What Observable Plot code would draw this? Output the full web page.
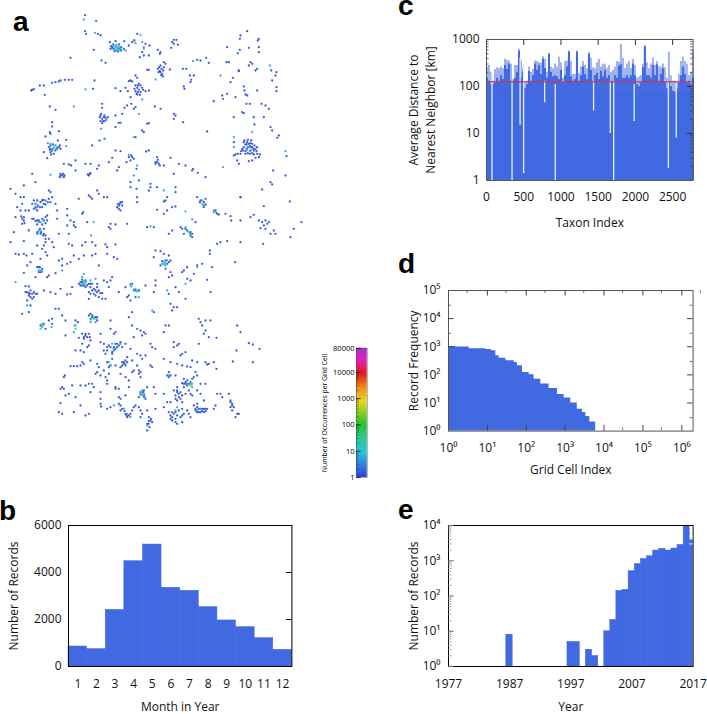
<!DOCTYPE html>
<html><head><meta charset="utf-8">
<script src="https://cdn.jsdelivr.net/npm/d3@7"></script>
<script src="https://cdn.jsdelivr.net/npm/@observablehq/plot@0.6"></script>
<style>
html,body{margin:0;padding:0;background:#fff}
#page{position:relative;width:707px;height:714px;overflow:hidden}
#page>svg{position:absolute}
.tag{position:absolute;font:bold 28px/12px "Liberation Sans",sans-serif;color:#000}
</style></head><body><div id="page"></div>
<script>
// ---------- panel a: occupied grid cells, [east, south] in map grid units, by occurrence class
const cellsOne = [254,44,287,61,254,92,257,100,300,104,292,100,328,125,345,122,335,140,340,145,355,145,362,140,330,145,385,135,395,125,402,120,410,100,435,130,447,135,418,170,430,165,445,165,425,155,472,148,480,155,478,160,515,125,520,118,528,118,532,133,520,130,512,142,280,148,303,180,315,187,210,172,490,185,480,195,472,205,478,212,485,220,487,228,480,215,495,190,508,207,547,205,557,205,590,178,600,180,617,172,625,187,568,225,580,225,572,238,570,245,550,258,552,265,440,208,445,208,405,225,410,232,390,240,385,242,395,243,415,250,410,262,405,272,415,268,425,262,420,275,435,272,445,270,410,282,375,262,382,272,345,263,360,272,390,290,380,315,372,322,392,310,405,320,400,325,463,318,480,325,95,268,100,266,92,270,118,255,130,255,133,283,155,247,165,245,175,243,180,240,193,238,205,238,215,238,278,265,282,240,148,318,165,328,305,310,305,322,300,345,310,350,305,355,315,352,322,350,308,362,300,362,345,380,355,367,360,367,365,340,345,345,155,365,155,378,148,395,150,400,175,392,135,408,150,435,170,445,155,450,150,455,160,460,178,435,197,418,172,420,130,455,140,473,405,410,425,390,430,395,440,370,445,368,520,340,525,345,520,355,548,365,620,393,640,302,665,285,668,295,680,280,715,210,697,232,690,245,730,258,732,270,735,282,740,285,770,270,705,290,725,335,738,310,748,310,730,338,783,310,795,315,805,325,700,350,760,350,790,350,762,372,810,380,815,390,835,405,830,412,720,105,718,115,740,92,775,115,772,120,680,140,718,148,712,158,745,142,775,140,775,155,678,185,685,185,750,185,755,190,745,195,770,205,765,210,715,212,812,210,828,215,825,225,815,240,828,260,828,272,700,425,730,425,735,432,740,425,745,430,750,428,755,430,762,435,765,445,770,440,730,440,738,445,750,450,755,440,760,450,735,452,728,450,742,458,748,460,755,458,720,460,712,460,705,462,700,465,770,460,778,462,775,470,765,472,755,480,745,482,710,480,715,490,858,467,818,510,855,525,810,545,815,552,785,567,720,590,868,603,790,617,760,643,750,650,690,647,692,660,720,660,775,660,785,665,795,660,805,665,790,675,780,683,800,670,795,685,810,700,820,690,825,700,880,685,903,665,870,710,345,450,360,452,395,470,390,480,378,485,408,505,335,472,325,485,355,500,350,510,295,495,290,505,270,490,255,490,268,520,265,525,225,480,190,490,205,492,212,495,225,510,180,520,185,525,190,530,178,530,275,435,312,415,297,420,445,450,437,453,470,485,472,478,465,490,478,495,490,495,510,472,535,490,555,495,578,505,575,510,592,517,615,530,390,545,415,540,390,560,408,565,450,550,450,560,445,570,470,560,520,520,525,560,525,575,495,600,490,603,500,590,470,628,490,640,500,630,515,620,525,618,600,600,610,620,590,590,615,595,648,637,655,642,675,640,720,590,585,665,540,680,555,685,570,705,575,710,550,700,515,690,505,700,440,680,460,680,380,670,345,672,330,670,325,680,330,685,360,605,355,615,350,620,360,630,365,605,410,590,410,605,290,570,295,580,265,585,270,590,275,595,320,590,310,590,235,595,245,640,248,635,260,665,225,680,30,565,45,580,70,555,60,590,70,590,65,610,50,620,60,630,75,630,100,600,110,600,105,620,110,630,125,600,130,610,135,600,145,595,150,605,155,590,165,610,170,630,145,570,150,575,105,545,95,520,85,630,45,650,65,655,70,660,65,670,100,655,110,660,130,660,135,650,140,645,170,655,200,625,200,645,210,660,220,665,200,675,220,675,120,700,130,685,85,690,40,695,135,715,145,715,175,700,205,700];
const cellsOneSouth = [30,725,70,722,110,735,130,735,125,745,135,755,155,725,160,740,135,725,205,730,215,735,255,725,245,735,275,725,285,735,315,732,320,740,345,732,45,760,55,762,70,760,78,765,95,760,140,765,120,775,185,775,175,780,185,795,210,785,220,765,235,775,250,765,275,765,285,760,320,760,340,770,350,775,80,795,90,785,115,815,70,817,105,830,145,825,140,830,165,818,200,790,295,795,245,838,235,850,240,855,255,860,265,850,270,860,275,870,290,850,310,840,320,845,330,840,335,830,325,860,290,875,285,885,295,890,305,895,315,895,270,880,265,895,75,857,85,858,75,875,85,877,100,875,105,880,90,890,95,895,110,880,90,915,65,940,85,935,80,900,130,870,150,875,165,880,180,865,200,882,210,880,215,860,405,870,405,890,435,855,460,875,465,855,380,890,385,885,390,900,355,875,375,860,465,840,460,770,465,750,480,752,490,760,505,765,510,780,495,805,510,815,515,825,505,830,505,880,510,910,520,920,515,930,530,920,560,835,570,840,580,820,590,795,605,790,620,838,635,800,630,875,550,810,560,800,545,815,525,860,535,875,555,895,460,935,704,785,628,750,628,760,650,730,660,725,720,725,788,730,680,722,120,975,130,970,135,985,270,940,290,950,232,965,145,960,155,970,155,955,185,945,175,925,165,925,195,960,225,960,195,1005,235,1012,255,1005,250,1015,265,1000,270,1020,245,1030,260,1040,265,1035,240,1050,225,1050,250,1055,300,1025,310,1030,320,1040,340,1050,350,1040,375,1030,345,1030,315,1060,335,1060,335,1075,325,1100,370,1090,375,1080,380,1085,365,1095,345,1095,390,1045,410,1060,420,1065,425,1075,395,1080,380,1070,340,1000,345,995,330,985,330,960,300,1000,250,1090,210,1097,220,1097,230,1097,240,1095,245,1085,290,1090,295,1100,290,1115,325,1120,315,1130,300,1125,190,1130,193,1125,270,1080,400,1010,410,985,420,990,430,995,425,1005,435,1000,395,975,385,950,395,935,455,1040,465,1045,450,1030,490,995,495,975,505,975,520,1040,530,1035,520,1025,535,1030,600,965,595,955,605,975,615,960,630,960,615,990,610,1000,625,1010,595,1030,648,1012,710,975,720,995,745,1028,757,1032,777,1045,708,1050,697,1083,757,1085,545,1060,540,1065,555,1055,490,1075,510,1085,455,1100,450,1095,435,1065,410,1095,400,1110,415,1120,420,1115,420,1130,575,1080,590,1085,615,1085,625,1090,620,1092,640,1085,648,1105,570,1100,560,1098,545,1095,530,1090,505,1130,500,1125,525,1125,585,1115,590,1125,550,1150,555,1145,560,1155,575,1135,580,1130,590,1170,600,1150,615,1150,565,1170,550,1135,530,1170,535,1180,525,1185,540,1195,530,1200,545,1205,555,1180,570,1180,575,1185,500,1205,510,1205,600,1180,610,1200,590,1210,595,1225,605,1225,615,1225,585,1230,590,1235,600,1235,610,1235,620,1225,640,1225,645,1215,660,1180,650,1180,665,1190,685,1180,690,1200,695,1210,690,1220,700,1220,695,1230,710,1240,705,1250,715,1240,550,1240,545,1225,525,1235,515,1235,510,1245,510,1255,515,1260,525,1265,530,1270,545,1265,560,1230,565,1240,570,1250,580,1215,490,1220,445,1250,450,1260,455,1265,445,1270,440,1290,430,1185,420,1175,435,1195,415,1190,405,1215,415,1220,420,1230,425,1240,400,1220,420,1250,440,1230,465,1225,460,1160,440,1160,430,1170,465,1180,490,1180,360,1195,355,1210,360,1230,375,1240,385,1245,380,1250,390,1240,395,1230,355,1190,330,1220,320,1225,300,1210,302,1218,345,1160,345,1165,320,1150,355,1165,375,1185,385,1160,300,1175,185,1160,190,1165,195,1185,205,1180,215,1155,225,1190,240,1215,255,1245,265,1240,240,1155,255,1155,265,1150,275,1150,280,1160,320,1140,180,1208,175,1235,185,1240,220,1235,180,1165,285,1120,310,1110,375,1130,385,1140,415,1110,360,1120,395,1115,300,1195,270,1175];
const cellsDense = [338,132,348,135,356,132,342,152,352,153,362,150,370,145,332,137,483,205,476,200,488,210,474,215,490,200,482,224,405,255,412,255,420,255,402,265,412,275,408,280,418,283,428,268,298,350,302,340,312,345,318,358,312,362,305,368,732,420,742,418,752,420,738,432,748,436,758,445,725,445,742,440,752,440,735,460,760,462,768,452,722,452,145,440,150,445,165,450,175,440,180,445,158,432,148,448,152,462,105,610,112,615,120,605,118,620,128,598,100,625,95,610,125,620,135,612,142,605,95,655,105,662,115,660,125,655,135,668,125,672,140,660,110,672,62,648,70,650,72,668,112,695,118,685,122,695,110,700,128,705,135,705,130,700,465,485,475,490,470,470,385,470,392,465,400,475,262,522,270,518,180,525,188,520,192,525,358,610,365,615,352,610,355,625,598,605,610,605,615,612,645,630,650,640,545,685,560,690,570,695,575,700,118,800,125,805,115,800,110,800,122,815,80,875,90,870,95,880,85,885,100,890,88,880,240,845,245,845,255,840,260,855,250,855,245,855,275,850,280,865,285,870,295,870,300,878,290,860,270,850,265,875,305,878,280,880,485,782,495,780,500,790,505,785,480,795,400,868,415,868,395,850,265,945,275,945,285,950,270,955,290,960,275,950,255,1000,260,1010,268,1010,250,1010,245,1000,330,1040,340,1040,345,1045,335,1055,325,1035,355,1035,360,1025,365,1040,350,1030,310,1050,320,1050,370,1085,375,1095,365,1085,360,1100,320,1085,330,1095,505,1115,510,1125,545,1148,555,1150,565,1150,560,1140,550,1160,570,1145,530,1175,540,1175,535,1190,525,1195,545,1185,530,1160,520,1170,590,1220,600,1225,610,1225,595,1235,605,1232,585,1225,615,1232,520,1240,530,1245,515,1250,525,1255,540,1250,505,1235,535,1230,545,1245,365,1225,372,1232,378,1245,360,1215,690,1205,695,1215,420,1182,428,1175,432,1190,440,1270,447,1280,445,1262,452,1255];
const cellsFew = [250,57,283,97,372,122,375,150,420,103,425,125,577,182,465,237,425,297,415,340,255,267,220,318,302,385,142,428,197,437,400,410,660,225,755,395,808,195,700,410,700,440,855,452,668,500,385,463,410,495,400,525,150,523,490,570,640,630,575,657,450,678,280,665,272,705,120,665,115,690,120,810,185,810,250,820,285,835,45,845,80,915,415,890,500,870,555,850,590,800,455,930,153,980,340,138,355,140,348,150,335,145,360,145,370,122,400,120,405,128,430,140,150,430,165,435,155,445,170,440,745,440,740,448,748,452,605,600,612,615,640,635,650,640,560,690,570,700,555,680,105,625,110,620,100,655,115,665,130,660,110,695,120,690,85,690,110,600,115,810,125,812,485,790,500,780,495,795,245,830,255,845,245,855,270,840,390,850,405,865,415,872,400,870,275,945,285,965,270,965,225,975,220,995,125,970,340,1045,335,1030,360,1030,350,1040,325,1085,330,1095,375,1090,505,1125,560,1150,575,1160,425,1170,430,1190,370,1225,380,1240,390,1250,340,1215,600,1225,590,1230,530,1220,525,1230,540,1250,440,1275];
const cellsSome = [350,142,345,148,430,145,160,440,555,633,605,610,565,695,490,785,250,848,390,855,412,872,125,980,225,985,222,975,345,140,352,145,355,150,347,135,158,445,165,445,608,615,568,700,495,788,490,792,245,850,255,852,250,842,280,950,272,958,287,955,392,858,408,872,120,985,128,975,340,1048,572,1150,427,1185,432,1180];
const cellsMany = [350,143,280,955,425,1180,570,1155,575,1150];
const classOne = 1.2, classFew = 5, classSome = 18, classMany = 38;

// colour key of panel a
const keyStops = [1, 3, 8, 30, 100, 700, 2500, 8000, 30000, 80000];
const keyColors = ["#2a3fd0","#2a80e6","#22c4d8","#28c890","#22c322","#e6d820","#f08a18","#e01c1c","#e020c0","#a030d8"];
const keyTicks = [1, 10, 100, 1000, 10000, 80000];

// ---------- panel b
const months = [1,2,3,4,5,6,7,8,9,10,11,12];
const monthRecords = [850,740,2410,4480,5190,3350,3220,2525,1960,1675,1205,710];

// ---------- panel c: tops of the bars, one entry per ~27 taxa
const taxonDark = [150,130,110,110,120,150,130,170,140,280,230,300,130,130,150,200,560,150,200,90,110,210,130,170,300,220,280,180,380,240,150,480,200,160,170,160,140,220,120,170,260,540,160,130,140,540,130,170,260,180,140,490,220,130,170,190,140,210,160,220,150,170,130,130,170,150,270,290,150,150,170,150,170,300,170,110,100,120,250,700,170,170,150,280,170,290,130,180,240,120,90,130,100,80,75,90,120,170,260,180,120,130,110,150];
const taxonLight = [260,280,200,130,230,250,240,260,240,380,360,350,300,140,280,280,620,350,250,120,130,260,200,230,350,340,320,310,430,380,200,510,260,240,300,260,420,320,150,340,350,570,340,180,180,570,190,260,340,280,240,520,400,250,240,320,380,260,300,290,240,280,200,220,260,340,330,780,400,240,300,340,240,380,280,150,160,170,300,740,320,240,300,400,280,340,260,260,300,250,150,540,170,130,130,120,180,340,420,340,300,170,200,600];
const taxonBinWidth = 26.85;
const taxonFloor = 75;
const dipTaxon = [80,350,458,505,788,930,1445,1670,1715,1990,2450,2556];
const dipFloor = [1,1,15,1.4,45,1,30,10,1,18,1.8,8];
const dipTop = [200,130,400,300,130,110,130,130,130,110,130,130];
const meanDistance = 125;

// ---------- panel d
const cellRank = [1,1.54,3.4,9.1,12.7,16.5,20,30,49,59,80,119,159,236,385,635,940,1390,2050,2780,3400,4300,6100];
const cellFreq = [1020,970,840,800,720,480,390,315,275,210,122,100,70,47,33,20,15,10,6,4.6,3.3,2.1,2.1];

// ---------- panel e
const years = [1987,1997,1998,2000,2001,2003,2004,2005,2006,2007,2008,2009,2010,2011,2012,2013,2014,2015,2016,2017];
const yearRecords = [8,5,5,3,2,10,21,140,150,510,815,1130,1350,1950,2180,1950,2230,2830,10000,3800];
const yearTicks = [1977,1987,1997,2007,2017];

// ---------- helpers
const FONT = '"Open Sans",sans-serif', BLUE = "#4169e1", page = document.getElementById("page");
const sup = {"0":"⁰","1":"¹","2":"²","3":"³","4":"⁴","5":"⁵","6":"⁶"};
const pow10 = d => "10" + sup[Math.round(Math.log10(d))];
const decades = (a, b) => d3.range(a, b + 1).map(k => 10 ** k);
const minors = (a, b) => decades(a, b - 1).flatMap(d => [2,3,4,5,6,7,8,9].map(m => m * d));
const logTicks = {type: "log", base: 10};

function panel({L, R, T, B, ML = 80, MR = 6, MT = 6, MB = 52, x, y, marks}) {
  const w = R - L, h = B - T;
  const svg = Plot.plot({
    width: w + ML + MR, height: h + MT + MB,
    marginLeft: ML, marginRight: MR, marginTop: MT, marginBottom: MB,
    x, y, style: {fontFamily: FONT, background: "transparent", overflow: "visible"},
    color: {type: "log", domain: keyStops, range: keyColors, interpolate: "rgb"},
    marks
  });
  svg.style.left = (L - ML) + "px";
  svg.style.top = (T - MT) + "px";
  page.appendChild(svg);
}
const xLabel = (s, dy) => Plot.text([s], {text: d => d, frameAnchor: "bottom", dy, lineAnchor: "middle", fontSize: 12, fill: "#111"});
const yLabel = (s, dx) => Plot.text([s], {text: d => d, frameAnchor: "left", textAnchor: "middle", dx, rotate: -90, lineAnchor: "middle", fontSize: 12, lineHeight: 1.42, fill: "#111"});
const xAxis = o => Plot.axisX({tickSize: 0, tickPadding: 12, fontSize: 12, label: null, color: "#111", ...o});
const yAxis = o => Plot.axisY({tickSize: 0, tickPadding: 7, fontSize: 12, label: null, color: "#111", ...o});

// ---------- panel a
const toRows = (flat, count) => d3.range(0, flat.length, 2).map(i => ({east: flat[i], south: flat[i + 1], count}));
const cells = [
  ...toRows(cellsOne, classOne), ...toRows(cellsOneSouth, classOne), ...toRows(cellsDense, classOne),
  ...toRows(cellsFew, classFew), ...toRows(cellsSome, classSome), ...toRows(cellsMany, classMany)
];
const mapSvg = Plot.plot({
  width: 320, height: 440, margin: 0,
  x: {domain: [0, 960], axis: null},
  y: {domain: [0, 1320], axis: null, reverse: true},
  color: {type: "log", domain: keyStops, range: keyColors, interpolate: "rgb"},
  style: {background: "transparent"},
  marks: [Plot.dot(cells, {x: "east", y: "south", fill: "count", r: 1.15, fillOpacity: 0.9})]
});
mapSvg.style.left = "0px"; mapSvg.style.top = "0px";
page.appendChild(mapSvg);

// colour key
const keyLevels = d3.range(0, 129).map(i => 80000 ** (i / 129));
panel({
  L: 356, R: 366.7, T: 347.7, B: 476.7, ML: 36, MR: 2, MT: 4, MB: 4,
  x: {domain: [0, 1], axis: null},
  y: {type: "log", domain: [1, 80000], axis: null},
  marks: [
    Plot.rect(keyLevels, {x1: 0, x2: 1, y1: d => d, y2: d => d * 80000 ** (1.3 / 129), fill: d => d}),
    Plot.frame({stroke: "#555", strokeWidth: 0.5}),
    Plot.text(keyTicks, {y: d => d, text: d => String(d), frameAnchor: "left", textAnchor: "end", dx: -2, fontSize: 7.5, fill: "#000"}),
    Plot.tickY(minors(0, 4).filter(d => d <= 80000), {y: d => d, insetRight: 8, stroke: "#222", strokeWidth: 0.4}),
    Plot.tickY(keyTicks, {y: d => d, insetRight: 6, stroke: "#000", strokeWidth: 0.7}),
    Plot.text(["Number of Occurrences per Grid Cell"], {text: d => d, frameAnchor: "left", textAnchor: "middle", dx: -32, rotate: -90, fontSize: 6.9, fill: "#000", lineAnchor: "middle"})
  ]
});

// ---------- panel b
panel({
  L: 68.3, R: 291.7, T: 525, B: 666, ML: 65,
  x: {domain: [0.5, 12.5]},
  y: {domain: [0, 6000]},
  marks: [
    Plot.rectY(months, {x1: d => d - 0.5, x2: d => d + 0.5, y1: 0, y2: (d, i) => monthRecords[i], fill: BLUE, stroke: BLUE, strokeWidth: 0.5}),
    Plot.frame({stroke: "#000", strokeWidth: 1}),
    Plot.tickY([2000, 4000], {y: d => d, insetLeft: 218, stroke: "#000"}),
    xAxis({ticks: months, tickFormat: d => String(d), tickPadding: 13}),
    yAxis({ticks: [0, 2000, 4000, 6000], tickFormat: d => String(d)}),
    xLabel("Month in Year", 41),
    yLabel("Number of Records", -56)
  ]
});

// ---------- panel c
const taxonBins = taxonDark.map((d, i) => ({x1: i * taxonBinWidth, x2: (i + 1) * taxonBinWidth, dark: d, light: taxonLight[i]}));
panel({
  L: 485.7, R: 692.3, T: 39, B: 180, ML: 80,
  x: {domain: [0, 2775]},
  y: {type: "log", domain: [1, 1000]},
  marks: [
    Plot.rect(taxonBins, {x1: "x1", x2: "x2", y1: 1, y2: "light", fill: "#9fb2ee"}),
    Plot.rect(taxonBins, {x1: "x1", x2: "x2", y1: 1, y2: "dark", fill: BLUE}),
    Plot.rect([taxonFloor], {x1: 0, x2: 2775, y1: 1, y2: d => d, fill: BLUE}),
    Plot.rect(dipTaxon, {x1: d => d - 9, x2: d => d + 9, y1: (d, i) => dipFloor[i], y2: (d, i) => dipTop[i], fill: "#e4eafb"}),
    Plot.ruleY([meanDistance], {stroke: "#c23a55", strokeWidth: 1.3}),
    Plot.frame({stroke: "#555", strokeWidth: 1}),
    Plot.tickX([500, 1000, 1500, 2000, 2500], {x: d => d, insetBottom: 135, stroke: "#333"}),
    Plot.tickY(minors(0, 3), {y: d => d, insetLeft: 204, stroke: "#333", strokeWidth: 0.7}),
    Plot.tickY([10, 100], {y: d => d, insetLeft: 201, stroke: "#333"}),
    Plot.tickY(minors(2, 3), {y: d => d, insetRight: 204, stroke: "#333", strokeWidth: 0.7}),
    xAxis({ticks: [0, 500, 1000, 1500, 2000, 2500], tickFormat: d => String(d)}),
    yAxis({ticks: [1, 10, 100, 1000], tickFormat: d => String(d)}),
    xLabel("Taxon Index", 43),
    yLabel("Average Distance to\nNearest Neighbor [km]", -65)
  ]
});

// ---------- panel d
panel({
  L: 447.7, R: 692.3, T: 289.7, B: 430.3, ML: 60,
  x: {...logTicks, domain: [1, 10 ** 6.29]},
  y: {...logTicks, domain: [1, 1e5]},
  marks: [
    Plot.areaY(cellRank, {x: d => d, y1: 1, y2: (d, i) => cellFreq[i], fill: BLUE, curve: "step-after"}),
    Plot.frame({stroke: "#555", strokeWidth: 1}),
    Plot.tickX(decades(1, 6), {x: d => d, insetTop: 135, stroke: "#444"}),
    Plot.tickX(decades(0, 6).slice(1), {x: d => d, insetBottom: 135, stroke: "#444"}),
    Plot.tickX(decades(0, 6).map(d => 3 * d), {x: d => d, insetBottom: 137.5, stroke: "#444", strokeWidth: 0.7}),
    Plot.tickX(decades(4, 5).map(d => 3 * d), {x: d => d, insetTop: 137.5, stroke: "#444", strokeWidth: 0.7}),
    Plot.tickY(decades(1, 4), {y: d => d, insetLeft: 239, stroke: "#444"}),
    Plot.tickY(decades(3, 4), {y: d => d, insetRight: 239, stroke: "#444"}),
    Plot.tickY([300, 3000, 30000, 30, 3], {y: d => d, insetLeft: 241.5, stroke: "#444", strokeWidth: 0.7}),
    Plot.tickY([3000, 30000], {y: d => d, insetRight: 241.5, stroke: "#444", strokeWidth: 0.7}),
    xAxis({ticks: decades(0, 6), tickFormat: pow10}),
    yAxis({ticks: decades(0, 5), tickFormat: pow10, tickPadding: 8}),
    xLabel("Grid Cell Index", 39),
    yLabel("Record Frequency", -36)
  ]
});

// ---------- panel e
panel({
  L: 447.7, R: 692.3, T: 525, B: 666, ML: 60,
  x: {domain: [1977, 2017]},
  y: {...logTicks, domain: [1, 1e4]},
  marks: [
    Plot.rectY(years, {x1: d => d - 0.55, x2: d => d + 0.5, y1: 1, y2: (d, i) => yearRecords[i], fill: BLUE, stroke: BLUE, strokeWidth: 0.4, clip: true}),
    Plot.frame({stroke: "#000", strokeWidth: 1}),
    Plot.tickY(minors(0, 4), {y: d => d, insetRight: 241, stroke: "#888", strokeWidth: 0.7}),
    Plot.tickY(decades(0, 4), {y: d => d, insetRight: 239, stroke: "#666"}),
    Plot.tickY([3000, 5000, 7000, 9000], {y: d => d, insetLeft: 241, stroke: "#fff", strokeWidth: 0.8}),
    xAxis({ticks: yearTicks, tickFormat: d => String(d), tickPadding: 13}),
    yAxis({ticks: decades(0, 4), tickFormat: pow10, tickPadding: 8}),
    xLabel("Year", 41),
    yLabel("Number of Records", -36)
  ]
});

// ---------- panel letters
[["a", 13, 16], ["b", -1, 505], ["c", 398, 0], ["d", 398, 258], ["e", 398, 504]].forEach(([t, l, tp]) => {
  const el = document.createElement("div");
  el.className = "tag"; el.textContent = t;
  el.style.left = l + "px"; el.style.top = tp + "px";
  page.appendChild(el);
});
</script></body></html>
